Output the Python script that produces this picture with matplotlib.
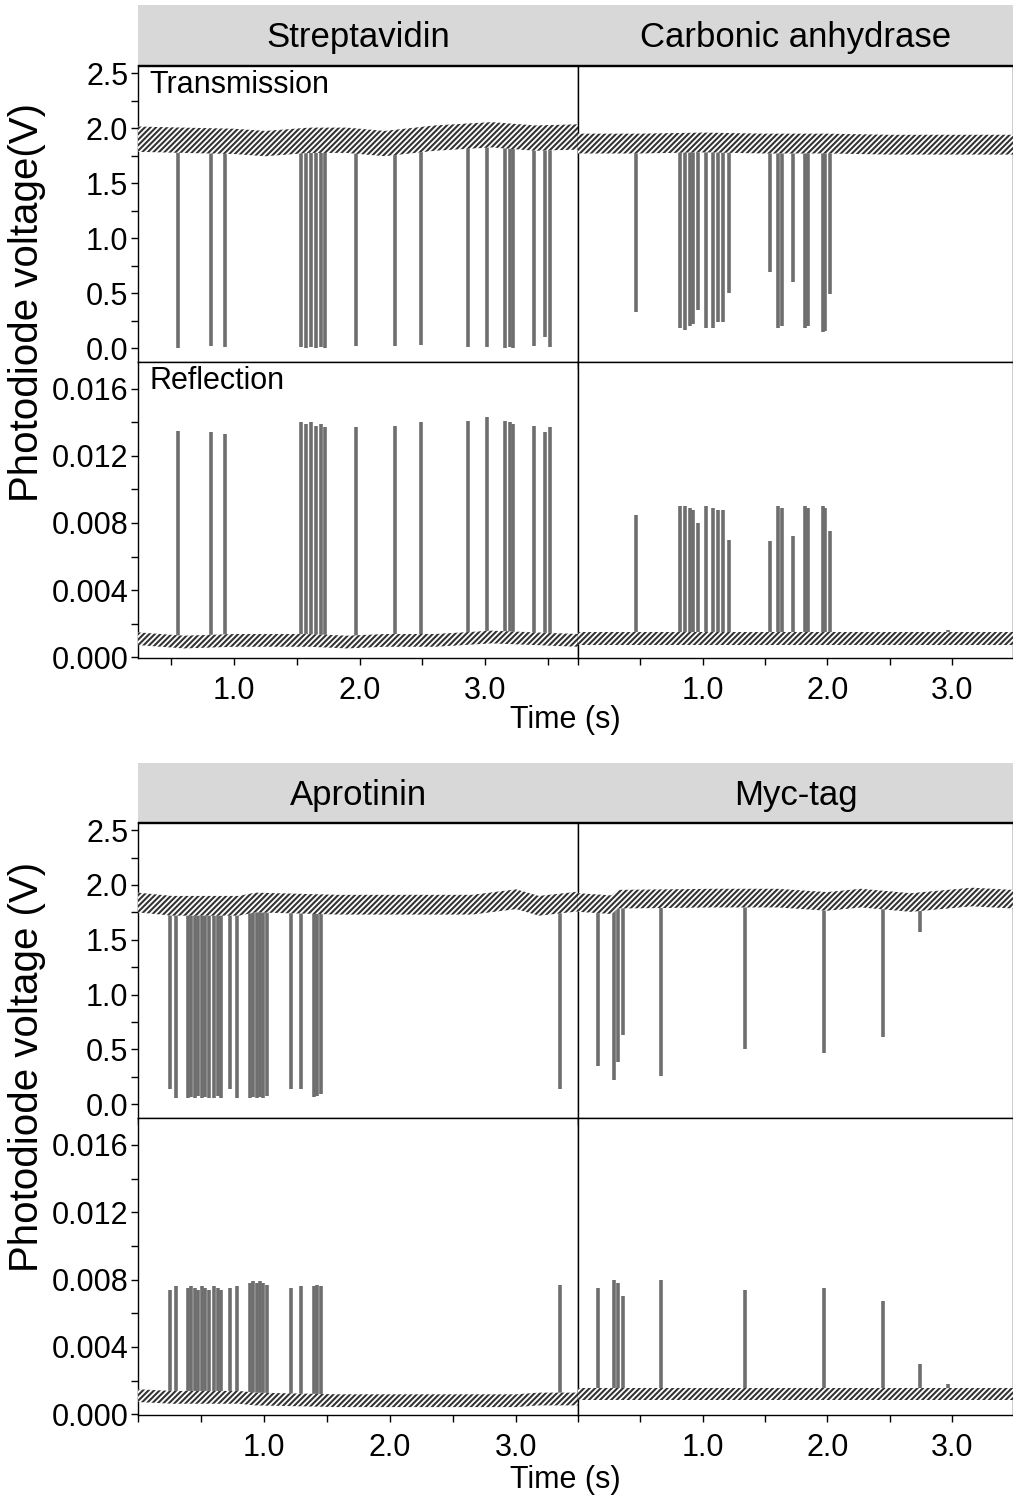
import numpy as np
import matplotlib
matplotlib.use("Agg")
import matplotlib.pyplot as plt
from matplotlib.ticker import MultipleLocator, FixedLocator

plt.rcParams['font.family'] = ['Liberation Sans', 'DejaVu Sans']
plt.rcParams['hatch.linewidth'] = 1.5

# ---------------- data ----------------
titles_top = ["Streptavidin", "Carbonic anhydrase"]
titles_bot = ["Aprotinin", "Myc-tag"]

# Streptavidin events
strep_t = [0.554, 0.814, 0.926, 1.536, 1.576, 1.616, 1.656, 1.696, 1.722, 1.974,
           2.280, 2.492, 2.864, 3.018, 3.157, 3.197, 3.223, 3.390, 3.476, 3.515]
strep_tr = [0.00, 0.02, 0.01, 0.01, 0.00, 0.01, 0.00, 0.01, 0.00, 0.02,
            0.02, 0.03, 0.01, 0.01, 0.00, 0.01, 0.00, 0.02, 0.10, 0.01]
strep_rf = [0.0135, 0.0134, 0.0133, 0.0140, 0.0139, 0.0140, 0.0138, 0.0139, 0.0137, 0.0137,
            0.0138, 0.0140, 0.0141, 0.0143, 0.0141, 0.0140, 0.0139, 0.0138, 0.0134, 0.0137]
strep_base_t = [0.235, 0.6, 1.0, 1.25, 1.6, 1.9, 2.2, 2.6, 3.05, 3.4, 3.74]
strep_base_tr = [1.90, 1.89, 1.88, 1.86, 1.89, 1.89, 1.86, 1.91, 1.94, 1.91, 1.92]
strep_base_rf = [0.0011, 0.0009, 0.0010, 0.0010, 0.0010, 0.0009, 0.0010, 0.0010, 0.0012, 0.0011, 0.0010]

# Carbonic anhydrase events
carb_t = [0.468, 0.816, 0.856, 0.896, 0.923, 0.963, 1.030, 1.083, 1.124, 1.164,
          1.209, 1.538, 1.605, 1.637, 1.726, 1.819, 1.846, 1.966, 1.985, 2.020, 2.97]
carb_tr = [0.33, 0.18, 0.17, 0.20, 0.22, 0.35, 0.18, 0.18, 0.24, 0.24,
           0.50, 0.69, 0.18, 0.20, 0.60, 0.18, 0.20, 0.15, 0.16, 0.49, 1.80]
carb_rf = [0.0085, 0.0090, 0.0090, 0.0089, 0.0088, 0.0080, 0.0090, 0.0089, 0.0088, 0.0088,
           0.0070, 0.0069, 0.0090, 0.0089, 0.0072, 0.0090, 0.0089, 0.0090, 0.0089, 0.0075, 0.0016]
carb_base_t = [0.0, 0.5, 1.0, 1.5, 2.0, 2.5, 3.0, 3.49]
carb_base_tr = [1.86, 1.86, 1.87, 1.86, 1.86, 1.85, 1.85, 1.85]
carb_base_rf = [0.0011, 0.0011, 0.0011, 0.0011, 0.0011, 0.0011, 0.0011, 0.0011]

# Aprotinin events
apro_t = [0.257, 0.305, 0.398, 0.424, 0.451, 0.478, 0.504, 0.531, 0.563, 0.605,
          0.632, 0.658, 0.730, 0.783, 0.889, 0.916, 0.942, 0.969, 0.995, 1.022,
          1.216, 1.292, 1.393, 1.420, 1.454, 3.349]
apro_tr = [0.14, 0.06, 0.06, 0.07, 0.06, 0.08, 0.06, 0.07, 0.06, 0.06,
           0.08, 0.06, 0.14, 0.06, 0.06, 0.07, 0.06, 0.07, 0.06, 0.08,
           0.14, 0.14, 0.07, 0.08, 0.09, 0.14]
apro_rf = [0.0074, 0.0076, 0.0075, 0.0076, 0.0075, 0.0074, 0.0076, 0.0075, 0.0074, 0.0076,
           0.0075, 0.0074, 0.0075, 0.0076, 0.0078, 0.0079, 0.0078, 0.0079, 0.0078, 0.0077,
           0.0075, 0.0076, 0.0076, 0.0077, 0.0076, 0.0077]
apro_base_t = [0.0, 0.27, 0.8, 0.93, 1.59, 2.65, 3.0, 3.18, 3.5]
apro_base_tr = [1.84, 1.81, 1.81, 1.84, 1.82, 1.82, 1.87, 1.81, 1.85]
apro_base_rf = [0.0011, 0.0010, 0.0010, 0.0009, 0.0008, 0.0008, 0.0008, 0.0009, 0.0009]

# Myc-tag events
myc_t = [0.161, 0.289, 0.321, 0.361, 0.669, 1.338, 1.972, 2.448, 2.747, 2.97]
myc_tr = [0.35, 0.22, 0.39, 0.63, 0.26, 0.50, 0.47, 0.61, 1.57, 1.80]
myc_rf = [0.0075, 0.0080, 0.0078, 0.0070, 0.0080, 0.0074, 0.0075, 0.0067, 0.0030, 0.0018]
myc_base_t = [0.0, 0.27, 0.32, 1.07, 1.6, 2.0, 2.27, 2.67, 3.16, 3.49]
myc_base_tr = [1.84, 1.82, 1.87, 1.88, 1.88, 1.85, 1.88, 1.84, 1.89, 1.87]
myc_base_rf = [0.0012, 0.0012, 0.0012, 0.0012, 0.0012, 0.0012, 0.0012, 0.0012, 0.0012, 0.0012]

tr_ticks = [0.0, 0.5, 1.0, 1.5, 2.0, 2.5]
rf_ticks = [0.000, 0.004, 0.008, 0.012, 0.016]
x_ticks = [1.0, 2.0, 3.0]

# ---------------- layout ----------------
W, H = 1013, 1503
fig = plt.figure(figsize=(W / 100, H / 100), dpi=100)

def box(x0, y0, x1, y1):
    return fig.add_axes([x0 / W, 1 - y1 / H, (x1 - x0) / W, (y1 - y0) / H])

TICK_FS = 22
BAND = '#333333'
SPIKE = '#6e6e6e'

def style_axis(ax, xlim, ylim, yticks, ymin_step, ylabels, xlabels, fmt):
    ax.set_xlim(*xlim)
    ax.set_ylim(*ylim)
    ax.xaxis.set_major_locator(FixedLocator(x_ticks))
    ax.xaxis.set_minor_locator(MultipleLocator(0.5))
    ax.set_yticks(yticks)
    ax.yaxis.set_minor_locator(MultipleLocator(ymin_step))
    ax.tick_params(axis='both', which='both', direction='out', length=5, width=1,
                   labelsize=TICK_FS, top=False, right=False)
    ax.tick_params(axis='x', pad=8)
    ax.tick_params(axis='y', pad=2)
    if ylabels:
        ax.set_yticklabels([fmt.format(v) for v in yticks])
    else:
        ax.tick_params(axis='y', which='both', left=False, labelleft=False)
    if xlabels:
        ax.set_xticklabels(["{:.1f}".format(v) for v in x_ticks])
    else:
        ax.tick_params(axis='x', which='both', labelbottom=False)
    for s in ax.spines.values():
        s.set_linewidth(1.0)
        s.set_color('black')

def draw_trans(ax, t, vmin, bt, bv, hw):
    base = np.interp(t, bt, bv)
    ax.vlines(t, vmin, base, color=SPIKE, lw=2.6, zorder=2)
    ax.fill_between(bt, np.array(bv) - hw, np.array(bv) + hw, facecolor='white',
                    edgecolor=BAND, hatch='//////', linewidth=0, zorder=3)

def draw_refl(ax, t, vmax, bt, bv, hw):
    base = np.interp(t, bt, bv)
    ax.vlines(t, base, vmax, color=SPIKE, lw=2.6, zorder=2)
    ax.fill_between(bt, np.array(bv) - hw, np.array(bv) + hw, facecolor='white',
                    edgecolor=BAND, hatch='//////', linewidth=0, zorder=3)

def header(y0, y1, names):
    hx = box(138, y0, 1013, y1)
    hx.set_facecolor('#d8d8d8')
    hx.set_xticks([]); hx.set_yticks([])
    for k in ['top', 'left', 'right']:
        hx.spines[k].set_visible(False)
    hx.spines['bottom'].set_linewidth(1.0)
    hx.text((578 - 138) / 2 / 875, 0.45, names[0], ha='center', va='center', fontsize=25,
            transform=hx.transAxes)
    hx.text((578 - 138 + (1013 - 578) / 2) / 875, 0.45, names[1], ha='center', va='center',
            fontsize=25, transform=hx.transAxes)

TR_LIM = (-0.125, 2.565)
RF_LIM = (-0.00005, 0.01760)

groups = [
    dict(hy=(5, 65), ty=(66, 362), ry=(362, 658), names=titles_top,
         left=dict(xlim=(0.235, 3.74), t=strep_t, tr=strep_tr, rf=strep_rf,
                   bt=strep_base_t, btr=strep_base_tr, brf=strep_base_rf, hwt=0.115),
         right=dict(xlim=(0.0, 3.49), t=carb_t, tr=carb_tr, rf=carb_rf,
                    bt=carb_base_t, btr=carb_base_tr, brf=carb_base_rf, hwt=0.09),
         ylabel="Photodiode voltage(V)", ylab_y=302, xlab_y=720, labels=True),
    dict(hy=(763, 822), ty=(823, 1118), ry=(1118, 1415), names=titles_bot,
         left=dict(xlim=(0.0, 3.49), t=apro_t, tr=apro_tr, rf=apro_rf,
                   bt=apro_base_t, btr=apro_base_tr, brf=apro_base_rf, hwt=0.09),
         right=dict(xlim=(0.0, 3.49), t=myc_t, tr=myc_tr, rf=myc_rf,
                    bt=myc_base_t, btr=myc_base_tr, brf=myc_base_rf, hwt=0.085),
         ylabel="Photodiode voltage (V)", ylab_y=1067, xlab_y=1480, labels=False),
]

for g in groups:
    header(*g['hy'], g['names'])
    for side, (x0, x1) in (('left', (138, 578)), ('right', (578, 1013))):
        d = g[side]
        at = box(x0, g['ty'][0], x1, g['ty'][1])
        ar = box(x0, g['ry'][0], x1, g['ry'][1])
        draw_trans(at, d['t'], d['tr'], d['bt'], d['btr'], d['hwt'])
        draw_refl(ar, d['t'], d['rf'], d['bt'], d['brf'], 0.00038)
        style_axis(at, d['xlim'], TR_LIM, tr_ticks, 0.25, side == 'left', False, "{:.1f}")
        style_axis(ar, d['xlim'], RF_LIM, rf_ticks, 0.002, side == 'left', True, "{:.3f}")
        if side == 'left' and g['labels']:
            at.text(0.025, 0.985, "Transmission", transform=at.transAxes, ha='left',
                    va='top', fontsize=22)
            ar.text(0.025, 0.985, "Reflection", transform=ar.transAxes, ha='left',
                    va='top', fontsize=22)
    fig.text(27 / W, 1 - g['ylab_y'] / H, g['ylabel'], rotation=90, ha='center',
             va='center', fontsize=29)
    fig.text(565 / W, 1 - g['xlab_y'] / H, "Time (s)", ha='center', va='center',
             fontsize=22)

fig.savefig("out.png", dpi=100)
